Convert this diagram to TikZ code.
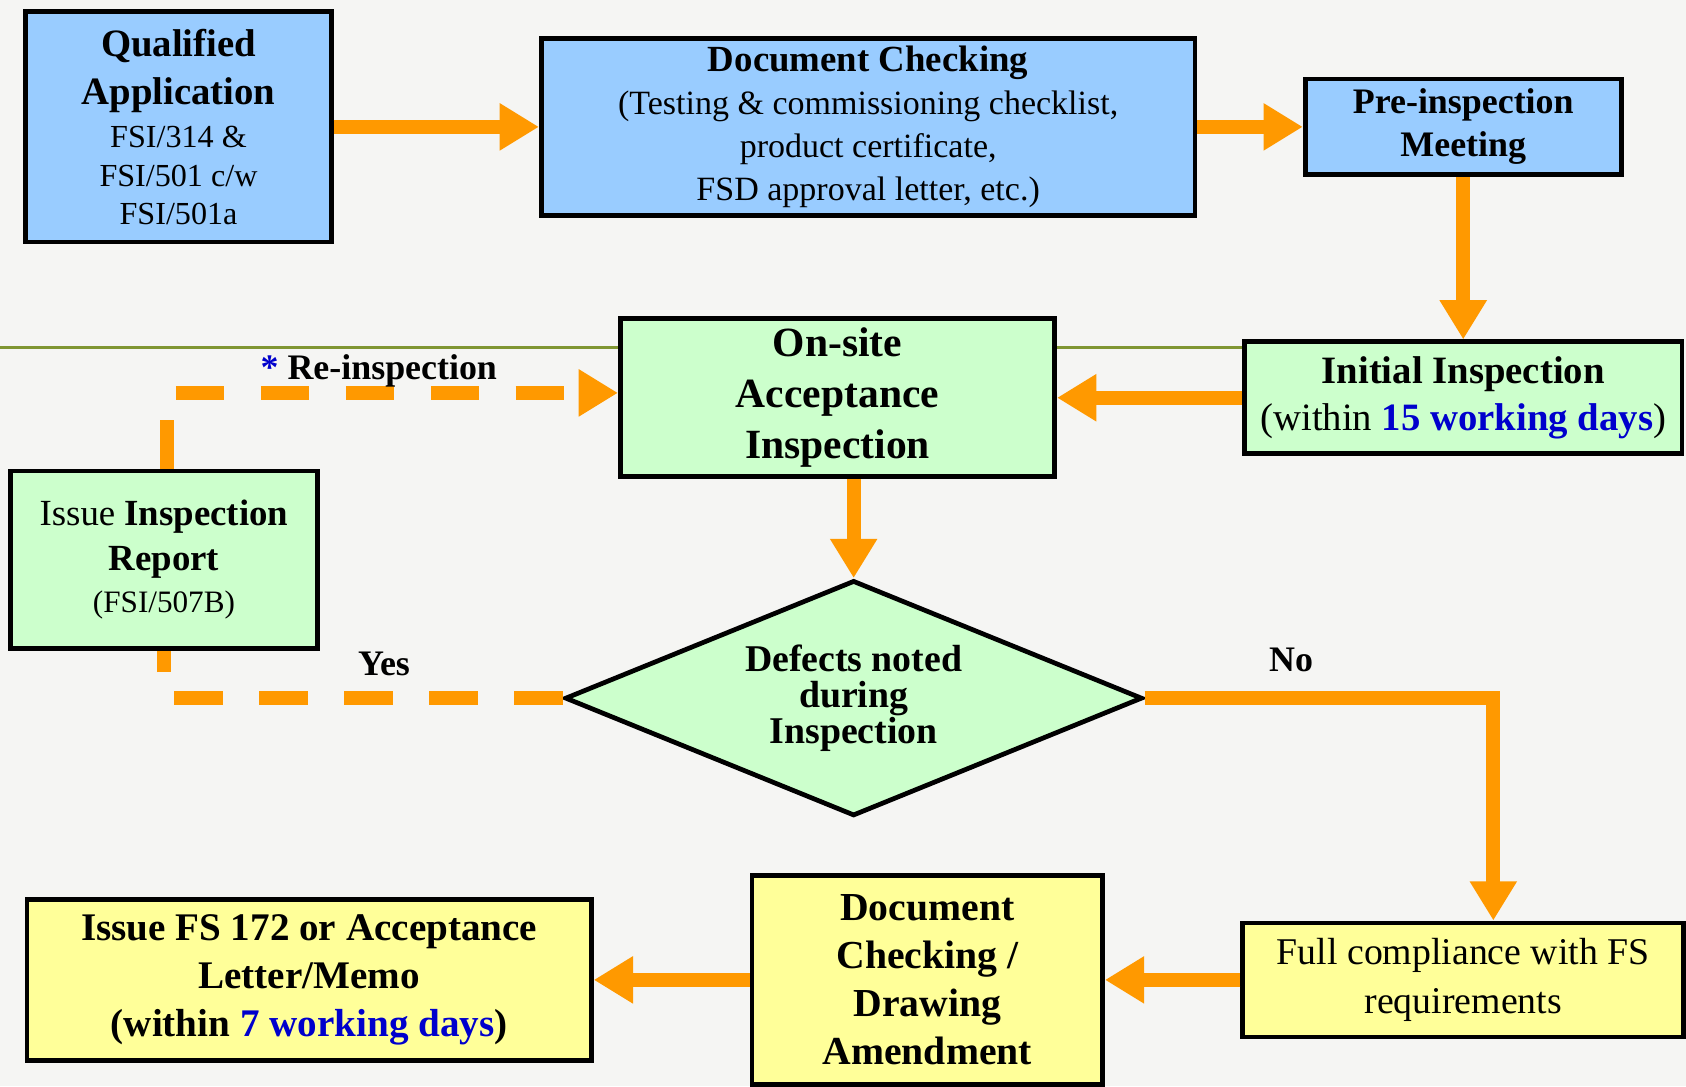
\documentclass[tikz,border=0pt]{standalone}
\usepackage{fontspec}
\setmainfont{Liberation Serif}
\usetikzlibrary{arrows.meta, positioning, shapes.geometric}
\definecolor{boxblue}{RGB}{153,204,255}
\definecolor{boxgreen}{RGB}{204,255,204}
\definecolor{boxyellow}{RGB}{255,255,153}
\definecolor{flow}{RGB}{255,153,0}
\definecolor{daysblue}{RGB}{0,0,204}
\definecolor{rulegreen}{RGB}{128,150,50}
\definecolor{paper}{RGB}{245,245,243}
\newcommand{\boxhead}{\fontsize{20.5}{24}\selectfont\bfseries}
\newcommand{\tightlines}{\setlength{\lineskiplimit}{-20pt}}

\begin{document}
\begin{tikzpicture}[x=0.2mm, y=-0.2mm,
  bx/.style={draw, line width=2.5pt, align=center, inner sep=0pt},
  bb/.style={bx, fill=boxblue},
  gb/.style={bx, fill=boxgreen},
  yb/.style={bx, fill=boxyellow},
  a/.style={draw=flow, line width=2.6mm, -{Triangle[length=7.3mm, width=8.3mm]}},
  ad/.style={a, dash pattern=on 9mm off 6.8mm},
  lbl/.style={font=\fontsize{19}{22}\selectfont\bfseries, inner sep=0pt}]
\useasboundingbox (0,0) rectangle (1568,1010);
\fill[paper] (0,0) rectangle (1568,1010);
\draw[rulegreen, line width=1.4pt] (0,323) -- (1155,323);
% top row
\node[bb, minimum width=56.8mm, minimum height=42.8mm,
  font=\fontsize{17}{20.3}\selectfont] (qual) at (166,118)
  {\boxhead Qualified\\[5.3pt] \boxhead Application\\[2.5pt]
   FSI/314 \&\\ FSI/501 c/w\\ FSI/501a};
\node[bb, minimum width=121.6mm, minimum height=33mm, right=38.2mm of qual,
  font=\fontsize{18}{22.8}\selectfont] (doc)
  {\bfseries\fontsize{19.5}{22.8}\selectfont Document Checking\\
   (Testing \& commissioning checklist,\\ product certificate,\\
   FSD approval letter, etc.)};
\node[bb, minimum width=58.8mm, minimum height=17.8mm, right=19.6mm of doc,
  font=\fontsize{19}{22.8}\selectfont\bfseries] (pre) {Pre-inspection\\Meeting};
% middle row
\node[gb, minimum width=81.4mm, minimum height=20.8mm, below=30.2mm of pre,
  font=\fontsize{20.5}{25}\selectfont] (init)
  {\bfseries Initial Inspection\\
   (within \textcolor{daysblue}{\bfseries 15 working days})};
\node[gb, minimum width=80.8mm, minimum height=29.4mm, left=34.4mm of init,
  font=\fontsize{22}{27}\selectfont\bfseries] (onsite)
  {On-site\\Acceptance\\Inspection};
\node[gb, diamond, shape aspect=2.45, minimum width=107.4mm, minimum height=43.8mm,
  below=18.4mm of onsite, xshift=3mm,
  font=\fontsize{20}{19}\selectfont\bfseries\tightlines] (defect)
  {Defects noted\\during\\Inspection};
\node[gb, minimum width=57mm, minimum height=33mm,
  font=\fontsize{19.5}{22.2}\selectfont] (report) at (152.5,520.5)
  {Issue \textbf{Inspection}\\[1.7pt] \bfseries Report\\
   \fontsize{16.5}{20}\selectfont (FSI/507B)};
% bottom row
\node[yb, minimum width=82mm, minimum height=21.2mm, below=86.4mm of init,
  font=\fontsize{20}{25.6}\selectfont] (full)
  {Full compliance with FS\\requirements};
\node[yb, minimum width=65.2mm, minimum height=38.8mm, left=25.2mm of full,
  font=\fontsize{21}{25.3}\selectfont\bfseries] (amend)
  {Document\\Checking /\\Drawing\\Amendment};
\node[yb, minimum width=105mm, minimum height=30mm, left=29mm of amend,
  font=\fontsize{20.7}{25.3}\selectfont\bfseries] (issue)
  {Issue FS 172 or Acceptance\\Letter/Memo\\
   (within \textcolor{daysblue}{7 working days})};
% connectors
\draw[a] (qual.east) -- (doc.west);
\draw[a] (doc.east) -- (pre.west);
\draw[a] (pre.south) -- (init.north);
\draw[a] (init.west) -- (onsite.east);
\draw[a] (onsite.south -| defect.north) -- (defect.north);
\draw[a] (defect.east) -| ([xshift=5.6mm]full.north)
  node[lbl, pos=0.21, above=3.6mm] {No};
\draw[a] (full.west) -- (amend.east);
\draw[a] (amend.west) -- (issue.east);
\draw[ad, -] (defect.west) -| (report.south)
  node[lbl, pos=0.224, above=2.8mm] {Yes};
\draw[ad] ([xshift=0.5mm]report.north) |- ([yshift=0.9mm]onsite.west)
  node[lbl, pos=0.735, above=-0.3mm] {\textcolor{daysblue}{*} Re-inspection};
\end{tikzpicture}
\end{document}
